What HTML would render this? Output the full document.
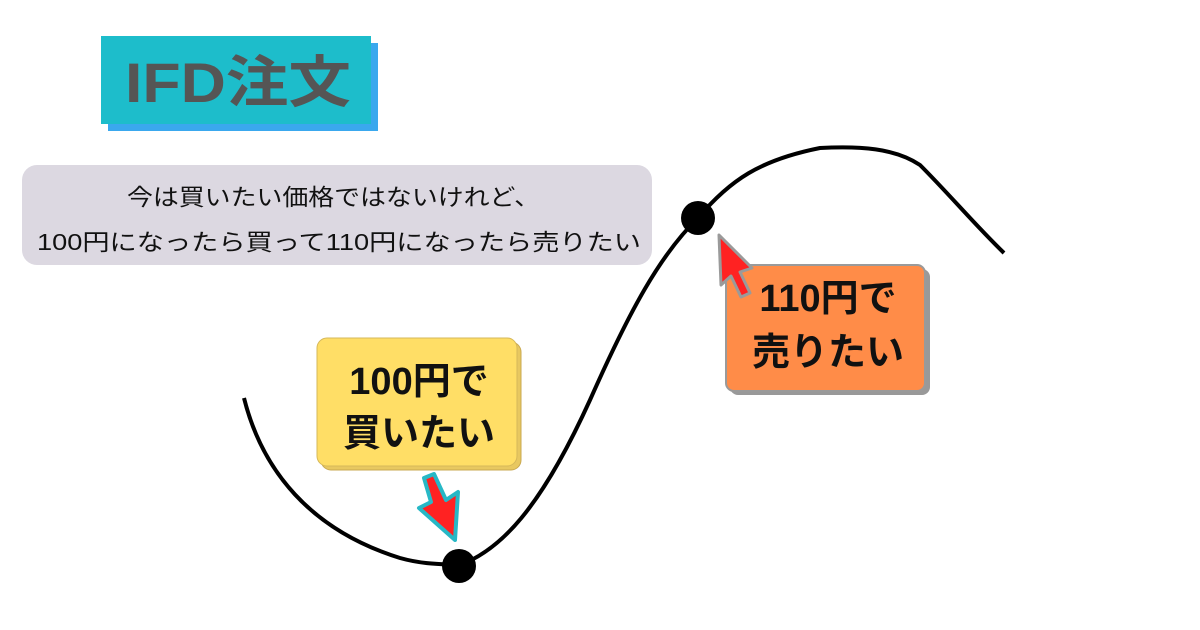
<!DOCTYPE html>
<html><head><meta charset="utf-8"><style>
html,body{margin:0;padding:0;background:#fff;}
svg{display:block;}
text{font-family:"Liberation Sans","Noto Sans CJK JP",sans-serif;}
</style></head><body>
<svg width="1200" height="630" viewBox="0 0 1200 630" xmlns="http://www.w3.org/2000/svg">
<rect x="0" y="0" width="1200" height="630" fill="#fff"/>
<!-- title -->
<rect x="108" y="43" width="270" height="88" fill="#3aa8ee"/>
<rect x="101" y="36" width="270" height="88" fill="#1dbdcb"/>
<text x="125" y="102" font-size="56" font-weight="bold" fill="#555555" textLength="226" lengthAdjust="spacingAndGlyphs">IFD注文</text>
<!-- gray box -->
<rect x="22" y="165" width="630" height="100" rx="15" fill="#dcd8e1"/>
<text x="127" y="205" font-size="23" fill="#111" textLength="413" lengthAdjust="spacingAndGlyphs">今は買いたい価格ではないけれど、</text>
<text x="37" y="250" font-size="23" fill="#111" textLength="604" lengthAdjust="spacingAndGlyphs">100円になったら買って110円になったら売りたい</text>
<!-- curve -->
<path d="M244,398 C262,470 310,530 400,558 C425,565 445,564 460,565 C500,550 540,510 590,400 C630,310 660,255 698,218 C730,180 760,160 820,148 C860,146 895,148 920,165 C950,195 975,225 1004,253" fill="none" stroke="#000" stroke-width="4"/>
<circle cx="459" cy="566" r="17" fill="#000"/>
<circle cx="698" cy="218" r="17" fill="#000"/>
<!-- yellow box -->
<rect x="321" y="342" width="200" height="128" rx="10" fill="#e8c860" stroke="#c9a850"/>
<rect x="317" y="338" width="200" height="128" rx="10" fill="#ffde66" stroke="#d6b85a"/>
<text x="419" y="394" text-anchor="middle" font-size="38" font-weight="bold" fill="#111">100円で</text>
<text x="419" y="446" text-anchor="middle" font-size="38" font-weight="bold" fill="#111">買いたい</text>
<!-- arrow down -->
<path d="M424,478 L434,474 L446,500 L458,492 L455,540 L419,508 L431,502 Z" fill="#ff2222" stroke="#27b8c6" stroke-width="4" stroke-linejoin="round"/>
<!-- orange box -->
<rect x="730" y="269" width="200" height="126" rx="8" fill="#999"/>
<rect x="726" y="265" width="199" height="126" rx="8" fill="#ff8c48" stroke="#9a9a9a" stroke-width="2"/>
<text x="828" y="311" text-anchor="middle" font-size="38" font-weight="bold" fill="#111">110円で</text>
<text x="828" y="365" text-anchor="middle" font-size="38" font-weight="bold" fill="#111">売りたい</text>
<!-- arrow up -->
<path d="M719,235 L752,268 L740,272 L750,293 L741,297 L731,276 L721,285 Z" fill="#ff2222" stroke="#9a9a9a" stroke-width="3" stroke-linejoin="round"/>
</svg>
</body></html>
